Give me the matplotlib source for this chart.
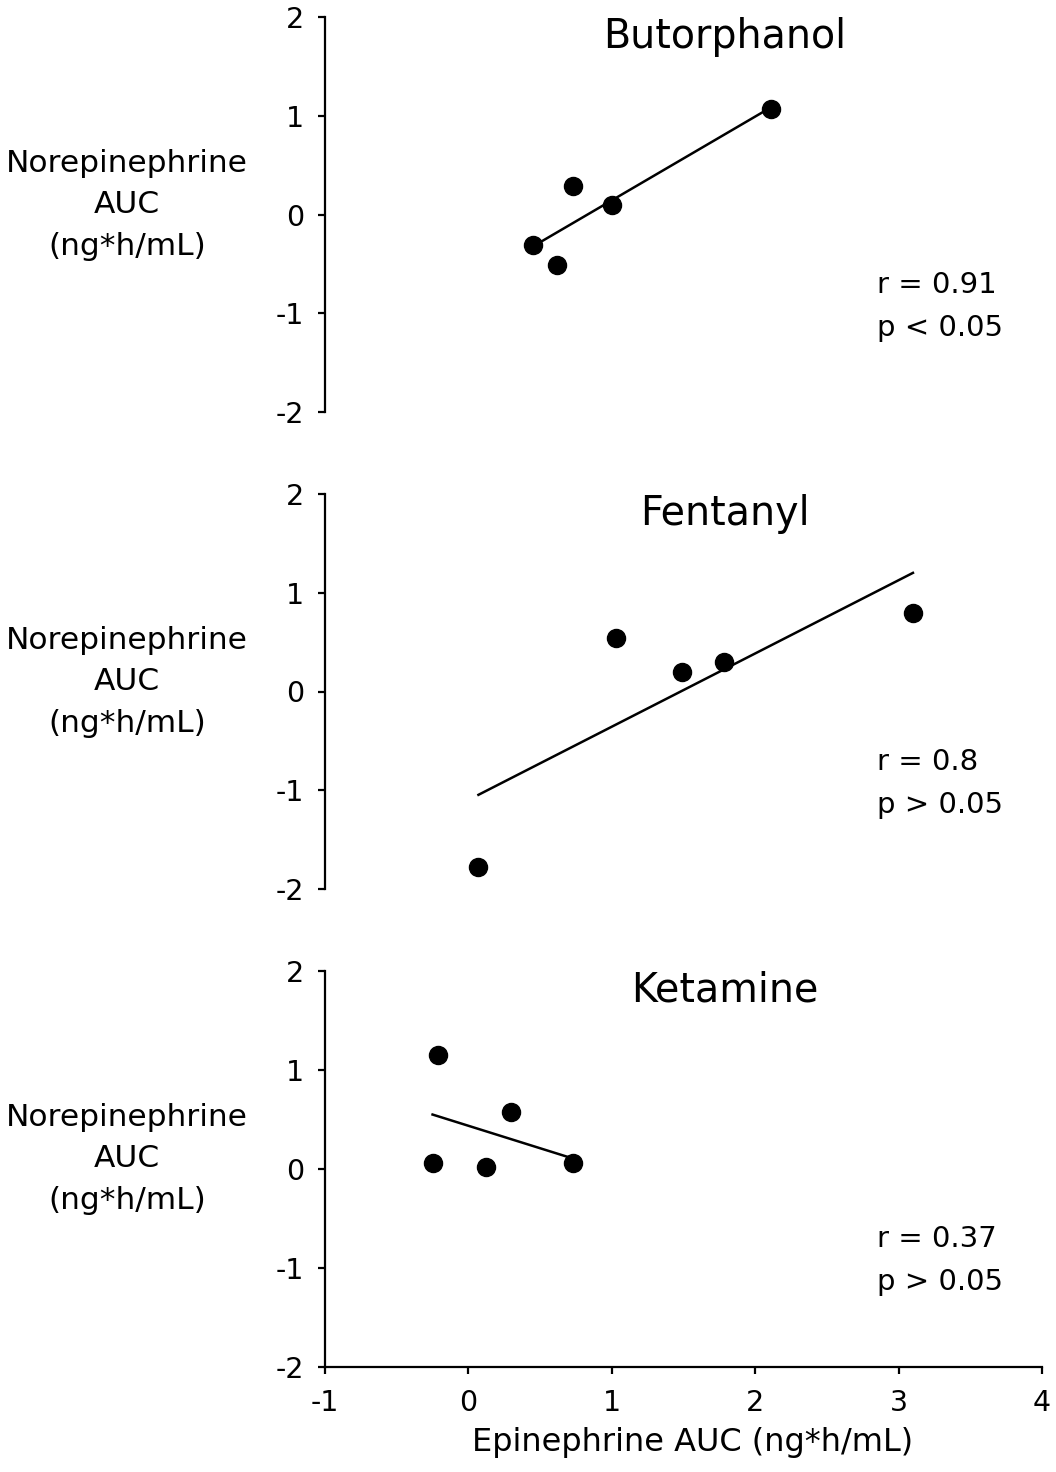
import numpy as np
import matplotlib
matplotlib.use("Agg")
import matplotlib.pyplot as plt

plt.rcParams['font.family'] = ['DejaVu Sans']
plt.rcParams['axes.unicode_minus'] = False

# ---- data ----
titles = ["Butorphanol", "Fentanyl", "Ketamine"]
r_labels = ["r = 0.91", "r = 0.8", "r = 0.37"]
p_labels = ["p < 0.05", "p > 0.05", "p > 0.05"]

but_x = [0.45, 0.73, 0.62, 1.00, 2.11]
but_y = [-0.31, 0.29, -0.51, 0.10, 1.07]
fen_x = [0.07, 1.03, 1.49, 1.78, 3.10]
fen_y = [-1.78, 0.54, 0.20, 0.30, 0.79]
ket_x = [-0.21, -0.25, 0.12, 0.30, 0.73]
ket_y = [1.15, 0.06, 0.02, 0.58, 0.06]

x_ticks = [-1, 0, 1, 2, 3, 4]
y_ticks = [-2, -1, 0, 1, 2]
ylabel_lines = ["Norepinephrine", "AUC", "(ng*h/mL)"]
xlabel = "Epinephrine AUC (ng*h/mL)"

series = [(but_x, but_y), (fen_x, fen_y), (ket_x, ket_y)]

W, H = 1056, 1472
fig = plt.figure(figsize=(W / 100, H / 100), dpi=100)

left = 325 / W
width = 717 / W
panels = [(17, 412), (494, 889), (971, 1367)]

for i, ((top, bot), (xs, ys)) in enumerate(zip(panels, series)):
    ax = fig.add_axes([left, 1 - bot / H, width, (bot - top) / H])
    ax.set_xlim(-1, 4)
    ax.set_ylim(-2, 2)
    ax.set_yticks(y_ticks)
    ax.set_xticks(x_ticks)
    for s in ['top', 'right']:
        ax.spines[s].set_visible(False)
    for s in ['left', 'bottom']:
        ax.spines[s].set_linewidth(1.6)
    ax.tick_params(axis='y', direction='out', length=5, width=1.6,
                   labelsize=20.5, pad=10)
    ax.tick_params(axis='x', direction='out', length=5, width=1.6,
                   labelsize=20.5, pad=11)
    if i < 2:
        ax.spines['bottom'].set_visible(False)
        ax.tick_params(axis='x', bottom=False, labelbottom=False)
    else:
        ax.text(0.513, -0.213, xlabel, transform=ax.transAxes, ha='center',
                va='baseline', fontsize=23)

    xs = np.asarray(xs)
    ys = np.asarray(ys)
    slope, icpt = np.polyfit(xs, ys, 1)
    xl = np.array([xs.min(), xs.max()])
    ax.plot(xl, slope * xl + icpt, color='black', lw=1.8, clip_on=False)
    ax.plot(xs, ys, 'o', color='black', markersize=13, clip_on=False)

    hpx = bot - top
    ax.text(0.558, 1 - 30.7 / hpx, titles[i], transform=ax.transAxes,
            ha='center', va='baseline', fontsize=28.5)
    ax.text(0.770, 1 - 276 / hpx, r_labels[i], transform=ax.transAxes,
            ha='left', va='baseline', fontsize=21)
    ax.text(0.770, 1 - 319 / hpx, p_labels[i], transform=ax.transAxes,
            ha='left', va='baseline', fontsize=21)
    for off, line in zip([155, 196, 238], ylabel_lines):
        ax.text(-0.276, 1 - off / hpx, line, transform=ax.transAxes,
                ha='center', va='baseline', fontsize=22.5)

fig.savefig("out.png", dpi=100)
